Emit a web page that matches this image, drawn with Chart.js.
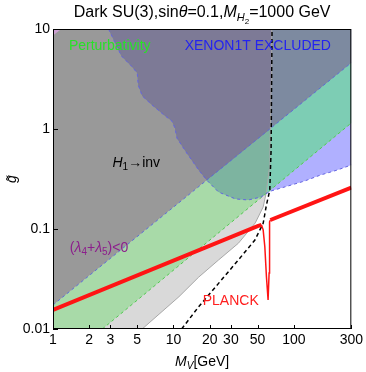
<!DOCTYPE html>
<html>
<head>
<meta charset="utf-8">
<title>Dark SU(3)</title>
<script src="https://cdn.jsdelivr.net/npm/chart.js"></script>
<style>
  body { margin: 0; background: #fff; }
  #wrap { width: 366px; height: 372px; }
</style>
</head>
<body>
<div id="wrap"><canvas id="chart"></canvas></div>
<script>
// axis ticks
const xTicks = [1, 2, 3, 5, 10, 20, 30, 50, 100, 300];
const yTicks = [0.01, 0.1, 1, 10];

// H1 -> invisible boundary (excluded to the left)
const h1X = [5.5, 11.1, 16.2, 23.7, 34.6, 47.8, 55.6, 58.9, 62.3, 63.3, 63.8, 64.8, 65.5];
const h1Y = [0.01, 0.021, 0.033, 0.049, 0.072, 0.115, 0.166, 0.229, 0.39, 0.62, 1.0, 3.0, 10];

// XENON1T exclusion boundary (excluded above)
const xenonX = [2.89, 3.70, 4.47, 5.01, 5.10, 5.51, 6.65, 8.35, 9.72, 10.3, 10.7, 12.9, 16.2, 18.9,
                23.7, 32.7, 41.8, 53.5, 58.7, 64.7, 89.3, 123, 167, 230, 300];
const xenonY = [10, 5.37, 4.27, 3.63, 2.75, 2.14, 1.74, 1.38, 1.20, 1.02, 0.81, 0.575, 0.389, 0.308,
                0.234, 0.20, 0.195, 0.209, 0.226, 0.24, 0.269, 0.302, 0.347, 0.389, 0.437];

// (lambda4+lambda5)<0 edge and lower edge of the perturbativity band
const upperX = [1, 300];
const upperY = [0.0174, 4.6];
const lowerX = [2.57, 300];
const lowerY = [0.01, 1.15];

// vertical-ish dashed curve
const dashX = [11.7, 16.2, 23.7, 34.6, 47.5, 55.6, 59.2, 63.1, 64.7, 65.9];
const dashY = [0.01, 0.0167, 0.0286, 0.049, 0.0776, 0.114, 0.174, 0.245, 0.617, 10];

// PLANCK relic density curve
const relicX = [1, 50, 53.8, 55.6, 57.4, 59.2, 61.1, 61.6, 62.3, 62.6, 63.1, 63.8, 300];
const relicY = [0.0155, 0.107, 0.110, 0.098, 0.0665, 0.0333, 0.0195, 0.0195, 0.0363, 0.0776, 0.1175, 0.123, 0.26];

const pts = (xs, ys) => xs.map((x, i) => ({ x: x, y: ys[i] }));
const xmin = xTicks[0], xmax = xTicks[xTicks.length - 1];
const ymin = yTicks[0], ymax = yTicks[yTicks.length - 1];

const h1 = pts(h1X, h1Y);
const xenon = pts(xenonX, xenonY);
const up = pts(upperX, upperY);
const low = pts(lowerX, lowerY);

// filled regions
const h1Poly = [{ x: xmin, y: ymin }, ...h1, { x: xmin, y: ymax }];
const xenonPoly = [...xenon, { x: xmax, y: ymax }];
const bandPoly = [up[0], up[1], low[1], low[0], { x: xmin, y: ymin }];
const darkPoly = [up[0], up[1], { x: xmax, y: ymax }, { x: xmin, y: ymax }];
const tealPoly = [...xenon.slice(13, 19), low[1], up[1]];
const tealLeftPoly = [...xenon.slice(13, 19), ...h1.slice(8, 11)];
const darkBluePoly = [...xenon.slice(0, 14), up[1], { x: xmax, y: ymax }];
const darkBlueLeftPoly = [...xenon.slice(0, 14), ...h1.slice(10, 13)];
const pinkPoly = [{ x: 1, y: 10 }, { x: 1.17, y: 10 }, { x: 1, y: 8.6 }];

let ord = 100;
function area(data, color) {
  return { data: data, showLine: true, fill: 'shape', backgroundColor: color,
           borderWidth: 0, pointRadius: 0, clip: 0, order: ord-- };
}
function curve(data, color, width, dash) {
  return { data: data, showLine: true, fill: false, borderColor: color, borderWidth: width,
           borderDash: dash || [], pointRadius: 0, clip: 0, order: ord-- };
}

const datasets = [
  area(h1Poly, 'rgb(217,217,217)'),
  area(xenonPoly, 'rgb(176,176,255)'),
  area(bandPoly, 'rgb(168,218,168)'),
  area(tealPoly, 'rgb(125,205,180)'),
  area(darkPoly, 'rgb(153,153,153)'),
  area(darkBluePoly, 'rgb(125,138,160)'),
  area(tealLeftPoly, 'rgb(125,180,160)'),
  area(darkBlueLeftPoly, 'rgb(125,122,150)'),
  area(pinkPoly, 'rgb(205,160,210)'),
  curve(h1, 'rgb(168,168,168)', 1),
  curve(up, 'rgb(90,110,215)', 1, [3, 3]),
  curve(low, 'rgb(80,200,80)', 1, [3, 3]),
  curve(xenon, 'rgb(100,100,225)', 1, [3, 3]),
  curve(pts(dashX, dashY), '#000', 1.5, [4, 3]),
  Object.assign(curve(pts(relicX, relicY), 'rgb(255,20,20)', 4), {
    segment: { borderWidth: c => (c.p0DataIndex < 2 || c.p0DataIndex >= 11) ? 4 : 1.5 }
  })
];

const FONT = '"Liberation Sans", Arial, sans-serif';
function rich(ctx, parts, x, y, align, color) {
  const fnt = p => (p.i ? 'italic ' : '') + (p.s || 14) + 'px ' + FONT;
  let w = 0;
  parts.forEach(p => { ctx.font = fnt(p); p.w = ctx.measureText(p.t).width; w += p.w; });
  let cx = align === 'center' ? x - w / 2 : x;
  ctx.textAlign = 'left';
  ctx.textBaseline = 'alphabetic';
  ctx.fillStyle = color;
  parts.forEach(p => { ctx.font = fnt(p); ctx.fillText(p.t, cx, y + (p.dy || 0)); cx += p.w; });
}

const decor = {
  id: 'decor',
  afterDraw(chart) {
    const ctx = chart.ctx, a = chart.chartArea;
    const sx = chart.scales.x, sy = chart.scales.y;
    const px = v => sx.getPixelForValue(v), py = v => sy.getPixelForValue(v);
    ctx.save();
    // frame and inward ticks
    ctx.strokeStyle = '#000';
    ctx.lineWidth = 1;
    ctx.strokeRect(a.left + 0.5, a.top + 0.5, a.right - a.left - 1, a.bottom - a.top - 1);
    ctx.beginPath();
    xTicks.forEach(v => { const x = Math.round(px(v)) + 0.5; ctx.moveTo(x, a.bottom); ctx.lineTo(x, a.bottom - 4); });
    yTicks.forEach(v => { const y = Math.round(py(v)) + 0.5; ctx.moveTo(a.left, y); ctx.lineTo(a.left + 5, y); });
    ctx.stroke();

    // title
    rich(ctx, [{ t: 'Dark SU(3),sin', s: 16 }, { t: 'θ', s: 16, i: 1 }, { t: '=0.1,', s: 16 },
               { t: 'M', s: 16, i: 1 }, { t: 'H', s: 11, i: 1, dy: 4 }, { t: '2', s: 8, dy: 7 },
               { t: '=1000 GeV', s: 16 }], (a.left + a.right) / 2, 17, 'center', '#000');
    // x axis title
    rich(ctx, [{ t: 'M', i: 1 }, { t: 'V', s: 10, i: 1, dy: 3 }, { t: '[GeV]' }],
         (a.left + a.right) / 2, 366, 'center', '#000');

    // region labels
    rich(ctx, [{ t: 'Perturbativity' }], px(1.355), py(6.17), 'left', 'rgb(40,225,40)');
    rich(ctx, [{ t: 'XENON1T EXCLUDED' }], px(12.4), py(6.17), 'left', 'rgb(35,35,240)');
    rich(ctx, [{ t: 'H', i: 1 }, { t: '1', s: 10, dy: 3 }, { t: '→inv' }], px(3.12), py(0.42), 'left', '#000');
    rich(ctx, [{ t: '(' }, { t: 'λ', i: 1 }, { t: '4', s: 10, dy: 3 }, { t: '+' }, { t: 'λ', i: 1 },
               { t: '5', s: 10, dy: 3 }, { t: ')<0' }], px(1.38), py(0.0589), 'left', 'rgb(140,30,140)');
    rich(ctx, [{ t: 'PLANCK' }], px(17.5), py(0.0174), 'left', 'rgb(255,30,30)');
    ctx.restore();
  }
};

Chart.defaults.font.family = FONT;
Chart.defaults.font.size = 14;
Chart.defaults.color = '#000';

new Chart(document.getElementById('chart').getContext('2d'), {
  type: 'scatter',
  data: { datasets: datasets },
  options: {
    responsive: true,
    maintainAspectRatio: false,
    animation: false,
    events: [],
    layout: { padding: { top: 29, right: 12, left: 0, bottom: 0 } },
    plugins: { legend: { display: false }, tooltip: { enabled: false } },
    scales: {
      x: {
        type: 'logarithmic', min: xmin, max: xmax,
        grid: { display: false, drawTicks: false },
        border: { display: false },
        ticks: { padding: 3, maxRotation: 0, autoSkip: false, callback: v => String(v) },
        afterBuildTicks: s => { s.ticks = xTicks.map(v => ({ value: v })); },
        afterFit: s => { s.height = 43; }
      },
      y: {
        type: 'logarithmic', min: ymin, max: ymax,
        grid: { display: false, drawTicks: false },
        border: { display: false },
        title: { display: true, text: 'g\u0303', font: { size: 14, style: 'italic' }, padding: { top: 4, bottom: 0 } },
        ticks: { padding: 3, autoSkip: false, callback: v => String(v) },
        afterBuildTicks: s => { s.ticks = yTicks.map(v => ({ value: v })); },
        afterFit: s => { s.width = 53; }
      }
    }
  },
  plugins: [decor]
});
</script>
</body>
</html>
